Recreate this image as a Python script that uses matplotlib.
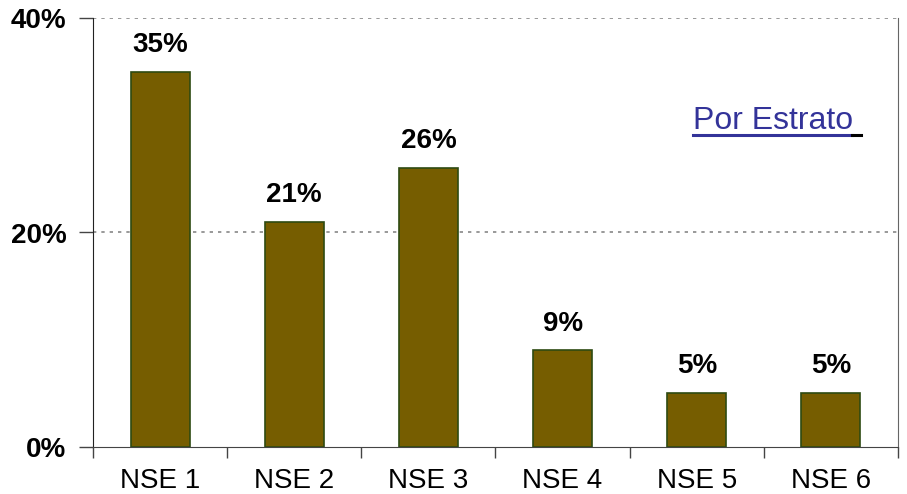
import matplotlib.pyplot as plt
from matplotlib.lines import Line2D

plt.rcParams['font.family'] = ['Liberation Sans', 'DejaVu Sans']

categories = ['NSE 1', 'NSE 2', 'NSE 3', 'NSE 4', 'NSE 5', 'NSE 6']
values = [35, 21, 26, 9, 5, 5]
y_ticks = [0, 20, 40]

fig = plt.figure(figsize=(9.07, 4.94), dpi=100)
ax = fig.add_axes([93 / 907, 47 / 494, 805 / 907, 429 / 494])

x = list(range(len(categories)))
ax.bar(x, values, width=0.44, color='#765D00', edgecolor='#2E4A12', linewidth=1.2, zorder=3)

for xi, v in zip(x, values):
    ax.annotate(f'{v}%', (xi, v), xytext=(0, 10), textcoords='offset points',
                ha='center', va='bottom', fontsize=20, fontweight='bold')

ax.set_xlim(-0.5, len(categories) - 0.5)
ax.set_ylim(0, 40)

# y axis
ax.set_yticks(y_ticks)
ax.set_yticklabels([f'{t}%' for t in y_ticks], fontsize=20, fontweight='bold')
ax.tick_params(axis='y', direction='out', length=10, width=1, pad=9, color='#444444')
for lbl in ax.get_yticklabels():
    lbl.set_va('center_baseline')
for t in [20, 40]:
    ax.axhline(t, color='#888888', linestyle=(0, (2, 3)), linewidth=1.2, zorder=1)

# x axis: labels centered, ticks on category boundaries
ax.set_xticks(x)
ax.set_xticklabels(categories, fontsize=20)
ax.tick_params(axis='x', which='major', length=0, pad=15)
ax.set_xticks([i - 0.5 for i in range(len(categories) + 1)], minor=True)
ax.tick_params(axis='x', which='minor', direction='out', length=8, width=1, color='#444444')

ax.spines['top'].set_visible(False)
ax.spines['right'].set_color('#666666')
ax.spines['left'].set_color('#222222')
ax.spines['bottom'].set_color('#444444')

# "Por Estrato" label with underline
ax.text(0.7453, 0.741, 'Por Estrato', transform=ax.transAxes, fontsize=23,
        color='#333399', ha='left', va='baseline')
ax.add_line(Line2D([0.7453, 0.9429], [0.727, 0.727], transform=ax.transAxes,
                   color='#333399', linewidth=2.2))
ax.add_line(Line2D([0.9429, 0.954], [0.727, 0.727], transform=ax.transAxes,
                   color='black', linewidth=2.2))

fig.savefig('out.png', dpi=100)
